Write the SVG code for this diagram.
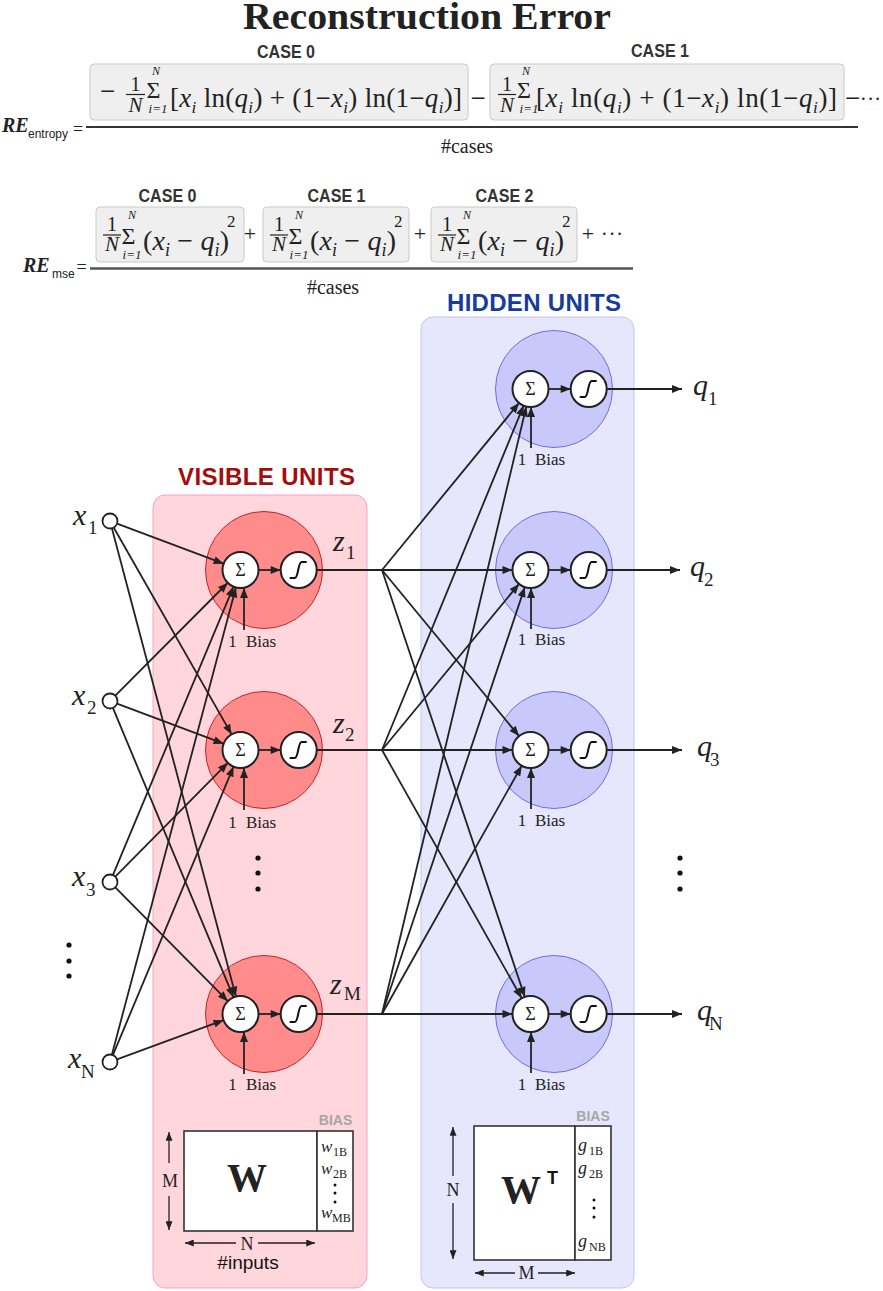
<svg xmlns="http://www.w3.org/2000/svg" xmlns:xlink="http://www.w3.org/1999/xlink" width="883" height="1291" viewBox="0 0 883 1291">
<style>
.f{font-family:"Liberation Serif","Times New Roman",serif;fill:#222}
.it{font-style:italic}
.bd{font-weight:bold}
.sa{font-family:"Liberation Sans",Arial,sans-serif}
.ln{stroke:#222;stroke-width:1.8;fill:none}
.arr{marker-end:url(#ah)}
.box{fill:#efefef;stroke:#c9c9c9;stroke-width:1}
.inner{fill:#fff;stroke:#222;stroke-width:2}
.vbig{fill:#ff8b8b;stroke:#c0262a;stroke-width:1}
.hbig{fill:#c8c8fb;stroke:#6e6ee0;stroke-width:1}
.in{fill:#fff;stroke:#222;stroke-width:1.8}
.sig{fill:none;stroke:#111;stroke-width:2}
.case{font-family:"Liberation Sans",Arial,sans-serif;font-weight:bold;font-size:18px;fill:#333;text-anchor:middle}
.dim{stroke:#222;stroke-width:1.3;fill:none;marker-end:url(#ah2)}
.mx{fill:#fff;stroke:#333;stroke-width:1.6}
.bias{font-family:"Liberation Sans",Arial,sans-serif;font-weight:bold;font-size:14px;fill:#a6a6a6;text-anchor:middle}
</style>
<defs>
<marker id="ah" viewBox="0 0 10 8" refX="10" refY="4" markerWidth="11" markerHeight="8" markerUnits="userSpaceOnUse" orient="auto"><path d="M0,0 L10,4 L0,8 z" fill="#222"/></marker>
<marker id="ah2" viewBox="0 0 10 8" refX="10" refY="4" markerWidth="9" markerHeight="7" markerUnits="userSpaceOnUse" orient="auto"><path d="M0,0 L10,4 L0,8 z" fill="#222"/></marker>
<path id="sig" class="sig" d="M-9,8 L-4,8 C0,8 -1,-8 3,-8 L8,-8"/>
</defs>
<rect width="883" height="1291" fill="#fff"/>

<!-- Title -->
<text class="f bd" x="427" y="29" font-size="37" text-anchor="middle" textLength="368" lengthAdjust="spacingAndGlyphs" fill="#2e2e2e">Reconstruction Error</text>

<!-- Entropy formula -->
<g id="formula-entropy">
<text class="case" x="286" y="58" textLength="58" lengthAdjust="spacingAndGlyphs">CASE 0</text>
<text class="case" x="660" y="57" textLength="58" lengthAdjust="spacingAndGlyphs">CASE 1</text>
<rect class="box" x="90" y="64" width="378" height="56" rx="4"/>
<rect class="box" x="490" y="64" width="354" height="56" rx="4"/>
<text class="f" x="107.5" y="100" font-size="27" text-anchor="middle">−</text>
<text class="f" x="135.5" y="91" font-size="20" text-anchor="middle">1</text>
<line x1="126" y1="94.5" x2="145" y2="94.5" stroke="#222" stroke-width="1.2"/>
<text class="f it" x="135.5" y="112" font-size="21" text-anchor="middle">N</text>
<text class="f" x="153.5" y="97.5" font-size="24" text-anchor="middle">Σ</text>
<text class="f it" x="156" y="75" font-size="12" text-anchor="middle">N</text>
<text class="f it" x="158" y="113" font-size="13" text-anchor="middle">i=1</text>
<text class="f" x="170" y="107" font-size="27" textLength="292" lengthAdjust="spacing">[<tspan class="it">x</tspan><tspan class="it" font-size="17" dy="6">i</tspan><tspan dy="-6"> ln(</tspan><tspan class="it">q</tspan><tspan class="it" font-size="17" dy="6">i</tspan><tspan dy="-6">) + (1−</tspan><tspan class="it">x</tspan><tspan class="it" font-size="17" dy="6">i</tspan><tspan dy="-6">) ln(1−</tspan><tspan class="it">q</tspan><tspan class="it" font-size="17" dy="6">i</tspan><tspan dy="-6">)]</tspan></text>
<text class="f" x="478" y="107" font-size="27" text-anchor="middle">−</text>
<text class="f" x="507" y="91" font-size="20" text-anchor="middle">1</text>
<line x1="498" y1="94.5" x2="516" y2="94.5" stroke="#222" stroke-width="1.2"/>
<text class="f it" x="507" y="112" font-size="21" text-anchor="middle">N</text>
<text class="f" x="524" y="97.5" font-size="24" text-anchor="middle">Σ</text>
<text class="f it" x="526" y="75" font-size="12" text-anchor="middle">N</text>
<text class="f it" x="529" y="113" font-size="13" text-anchor="middle">i=1</text>
<text class="f" x="536" y="107" font-size="27" textLength="301" lengthAdjust="spacing">[<tspan class="it">x</tspan><tspan class="it" font-size="17" dy="6">i</tspan><tspan dy="-6"> ln(</tspan><tspan class="it">q</tspan><tspan class="it" font-size="17" dy="6">i</tspan><tspan dy="-6">) + (1−</tspan><tspan class="it">x</tspan><tspan class="it" font-size="17" dy="6">i</tspan><tspan dy="-6">) ln(1−</tspan><tspan class="it">q</tspan><tspan class="it" font-size="17" dy="6">i</tspan><tspan dy="-6">)]</tspan></text>
<text class="f" x="852.5" y="107" font-size="27" text-anchor="middle">−</text>
<text class="f" x="860" y="106" font-size="20" textLength="21" lengthAdjust="spacing">···</text>
<line x1="86" y1="127" x2="858" y2="127" stroke="#333" stroke-width="2.2"/>
<text class="f" x="467" y="153" font-size="20" text-anchor="middle">#cases</text>
<text class="f bd it" x="2" y="132" font-size="20">RE</text>
<text class="sa" x="28" y="138" font-size="12" fill="#222">entropy</text>
<text class="f" x="78" y="135" font-size="18" text-anchor="middle">=</text>
</g>

<!-- MSE formula -->
<g id="formula-mse">
<text class="case" x="167.5" y="202" textLength="58" lengthAdjust="spacingAndGlyphs">CASE 0</text>
<text class="case" x="336.5" y="202" textLength="58" lengthAdjust="spacingAndGlyphs">CASE 1</text>
<text class="case" x="504.5" y="202" textLength="58" lengthAdjust="spacingAndGlyphs">CASE 2</text>
<rect class="box" x="96" y="207" width="148" height="55" rx="4"/>
<rect class="box" x="263" y="207" width="146" height="55" rx="4"/>
<rect class="box" x="431" y="207" width="146" height="55" rx="4"/>
<g transform="translate(96,0)">
<text class="f" x="16" y="231" font-size="20" text-anchor="middle">1</text>
<line x1="7" y1="235" x2="25" y2="235" stroke="#222" stroke-width="1.2"/>
<text class="f it" x="16" y="251" font-size="21" text-anchor="middle">N</text>
<text class="f" x="32.5" y="243.5" font-size="24" text-anchor="middle">Σ</text>
<text class="f it" x="36" y="219" font-size="12" text-anchor="middle">N</text>
<text class="f it" x="36" y="259" font-size="13" text-anchor="middle">i=1</text>
<text class="f" x="47" y="250" font-size="28" textLength="86" lengthAdjust="spacing">(<tspan class="it">x</tspan><tspan class="it" font-size="18" dy="6">i</tspan><tspan dy="-6"> − </tspan><tspan class="it">q</tspan><tspan class="it" font-size="18" dy="6">i</tspan><tspan dy="-6">)</tspan></text>
<text class="f" x="131" y="227" font-size="17">2</text>
</g>
<g transform="translate(263,0)">
<text class="f" x="16" y="231" font-size="20" text-anchor="middle">1</text>
<line x1="7" y1="235" x2="25" y2="235" stroke="#222" stroke-width="1.2"/>
<text class="f it" x="16" y="251" font-size="21" text-anchor="middle">N</text>
<text class="f" x="32.5" y="243.5" font-size="24" text-anchor="middle">Σ</text>
<text class="f it" x="36" y="219" font-size="12" text-anchor="middle">N</text>
<text class="f it" x="36" y="259" font-size="13" text-anchor="middle">i=1</text>
<text class="f" x="47" y="250" font-size="28" textLength="86" lengthAdjust="spacing">(<tspan class="it">x</tspan><tspan class="it" font-size="18" dy="6">i</tspan><tspan dy="-6"> − </tspan><tspan class="it">q</tspan><tspan class="it" font-size="18" dy="6">i</tspan><tspan dy="-6">)</tspan></text>
<text class="f" x="131" y="227" font-size="17">2</text>
</g>
<g transform="translate(431,0)">
<text class="f" x="16" y="231" font-size="20" text-anchor="middle">1</text>
<line x1="7" y1="235" x2="25" y2="235" stroke="#222" stroke-width="1.2"/>
<text class="f it" x="16" y="251" font-size="21" text-anchor="middle">N</text>
<text class="f" x="32.5" y="243.5" font-size="24" text-anchor="middle">Σ</text>
<text class="f it" x="36" y="219" font-size="12" text-anchor="middle">N</text>
<text class="f it" x="36" y="259" font-size="13" text-anchor="middle">i=1</text>
<text class="f" x="47" y="250" font-size="28" textLength="86" lengthAdjust="spacing">(<tspan class="it">x</tspan><tspan class="it" font-size="18" dy="6">i</tspan><tspan dy="-6"> − </tspan><tspan class="it">q</tspan><tspan class="it" font-size="18" dy="6">i</tspan><tspan dy="-6">)</tspan></text>
<text class="f" x="131" y="227" font-size="17">2</text>
</g>
<text class="f" x="250" y="241" font-size="22" text-anchor="middle">+</text>
<text class="f" x="420" y="241" font-size="22" text-anchor="middle">+</text>
<text class="f" x="588" y="241" font-size="22" text-anchor="middle">+</text>
<text class="f" x="601" y="241" font-size="20" textLength="22" lengthAdjust="spacing">···</text>
<line x1="90" y1="268.5" x2="633" y2="268.5" stroke="#555" stroke-width="2.4"/>
<text class="f" x="333" y="294" font-size="20" text-anchor="middle">#cases</text>
<text class="f bd it" x="23" y="272" font-size="20">RE</text>
<text class="sa" x="52" y="278" font-size="12" fill="#222">mse</text>
<text class="f" x="81.5" y="273" font-size="18" text-anchor="middle">=</text>
</g>

<!-- Panels -->
<g id="visible-panel">
<rect x="153" y="495" width="214" height="793" rx="12" fill="#ffd6db" stroke="#f5a3cf" stroke-width="1"/>
<text class="sa bd" x="266.5" y="485" font-size="24" text-anchor="middle" textLength="177" fill="#a30d0d">VISIBLE UNITS</text>
</g>
<g id="hidden-panel">
<rect x="421" y="317" width="213" height="971" rx="12" fill="#e6e6fc" stroke="#c2c2f2" stroke-width="1"/>
<text class="sa bd" x="534" y="311" font-size="24" text-anchor="middle" textLength="174" fill="#163c9c">HIDDEN UNITS</text>
</g>

<!-- Input nodes -->
<g id="input-x1"><circle class="in" cx="110" cy="521" r="7.5"/><text class="f it" x="73" y="525" font-size="30">x</text><text class="f" x="88" y="534" font-size="19">1</text></g>
<g id="input-x2"><circle class="in" cx="110" cy="701" r="7.5"/><text class="f it" x="72" y="705" font-size="30">x</text><text class="f" x="87" y="714" font-size="19">2</text></g>
<g id="input-x3"><circle class="in" cx="110" cy="882" r="7.5"/><text class="f it" x="72" y="886" font-size="30">x</text><text class="f" x="86" y="896" font-size="19">3</text></g>
<g id="input-xN"><circle class="in" cx="110" cy="1062" r="7.5"/><text class="f it" x="68" y="1068" font-size="30">x</text><text class="f" x="81" y="1078" font-size="19">N</text></g>
<g id="input-dots" fill="#111"><circle cx="69" cy="945" r="2.6"/><circle cx="69" cy="961" r="2.6"/><circle cx="69" cy="976" r="2.6"/></g>

<!-- Visible nodes -->
<g id="visible-z1">
<circle class="vbig" cx="264" cy="570" r="58.5"/>
<circle class="inner" cx="240.5" cy="570" r="18"/>
<text class="f" x="240.5" y="576" font-size="18" text-anchor="middle">Σ</text>
<line class="ln arr" x1="258.5" y1="570" x2="280.7" y2="570"/>
<circle class="inner" cx="298.7" cy="570" r="18"/>
<use href="#sig" x="298.7" y="570"/>
<line class="ln arr" x1="244" y1="630" x2="244" y2="588"/>
<text class="f" x="232.5" y="647" font-size="17" text-anchor="middle">1</text><text class="f" x="246" y="647" font-size="17">Bias</text>
<text class="f it" x="333" y="551" font-size="30">z</text><text class="f" x="346" y="559" font-size="19">1</text>
</g>
<g id="visible-z2">
<circle class="vbig" cx="264" cy="750" r="58.5"/>
<circle class="inner" cx="240.5" cy="750" r="18"/>
<text class="f" x="240.5" y="756" font-size="18" text-anchor="middle">Σ</text>
<line class="ln arr" x1="258.5" y1="750" x2="280.7" y2="750"/>
<circle class="inner" cx="298.7" cy="750" r="18"/>
<use href="#sig" x="298.7" y="750"/>
<line class="ln arr" x1="244" y1="810" x2="244" y2="768"/>
<text class="f" x="232.5" y="828" font-size="17" text-anchor="middle">1</text><text class="f" x="246" y="828" font-size="17">Bias</text>
<text class="f it" x="333" y="733" font-size="30">z</text><text class="f" x="345" y="741" font-size="19">2</text>
</g>
<g id="visible-dots" fill="#111"><circle cx="258" cy="858" r="2.6"/><circle cx="258" cy="873" r="2.6"/><circle cx="258" cy="889" r="2.6"/></g>
<g id="visible-zM">
<circle class="vbig" cx="264" cy="1014" r="58.5"/>
<circle class="inner" cx="240.5" cy="1014" r="18"/>
<text class="f" x="240.5" y="1020" font-size="18" text-anchor="middle">Σ</text>
<line class="ln arr" x1="258.5" y1="1014" x2="280.7" y2="1014"/>
<circle class="inner" cx="298.7" cy="1014" r="18"/>
<use href="#sig" x="298.7" y="1014"/>
<line class="ln arr" x1="244" y1="1074" x2="244" y2="1032"/>
<text class="f" x="232.5" y="1090" font-size="17" text-anchor="middle">1</text><text class="f" x="246" y="1090" font-size="17">Bias</text>
<text class="f it" x="330" y="994" font-size="30">z</text><text class="f" x="344" y="1000" font-size="19">M</text>
</g>

<!-- Hidden nodes -->
<g id="hidden-q1">
<circle class="hbig" cx="554" cy="389" r="58.5"/>
<circle class="inner" cx="530.5" cy="389" r="18"/>
<text class="f" x="530.5" y="395" font-size="18" text-anchor="middle">Σ</text>
<line class="ln arr" x1="548.5" y1="389" x2="570.7" y2="389"/>
<circle class="inner" cx="588.7" cy="389" r="18"/>
<use href="#sig" x="588.7" y="389"/>
<line class="ln arr" x1="531" y1="448" x2="531" y2="407"/>
<text class="f" x="522" y="465" font-size="17" text-anchor="middle">1</text><text class="f" x="535" y="465" font-size="17">Bias</text>
</g>
<g id="hidden-q2">
<circle class="hbig" cx="554" cy="570" r="58.5"/>
<circle class="inner" cx="530.5" cy="570" r="18"/>
<text class="f" x="530.5" y="576" font-size="18" text-anchor="middle">Σ</text>
<line class="ln arr" x1="548.5" y1="570" x2="570.7" y2="570"/>
<circle class="inner" cx="588.7" cy="570" r="18"/>
<use href="#sig" x="588.7" y="570"/>
<line class="ln arr" x1="531" y1="629" x2="531" y2="588"/>
<text class="f" x="522" y="645" font-size="17" text-anchor="middle">1</text><text class="f" x="535" y="645" font-size="17">Bias</text>
</g>
<g id="hidden-q3">
<circle class="hbig" cx="554" cy="750" r="58.5"/>
<circle class="inner" cx="530.5" cy="750" r="18"/>
<text class="f" x="530.5" y="756" font-size="18" text-anchor="middle">Σ</text>
<line class="ln arr" x1="548.5" y1="750" x2="570.7" y2="750"/>
<circle class="inner" cx="588.7" cy="750" r="18"/>
<use href="#sig" x="588.7" y="750"/>
<line class="ln arr" x1="531" y1="809" x2="531" y2="768"/>
<text class="f" x="522" y="826" font-size="17" text-anchor="middle">1</text><text class="f" x="535" y="826" font-size="17">Bias</text>
</g>
<g id="hidden-dots" fill="#111"><circle cx="680" cy="858" r="2.6"/><circle cx="680" cy="873" r="2.6"/><circle cx="680" cy="889" r="2.6"/></g>
<g id="hidden-qN">
<circle class="hbig" cx="554" cy="1014" r="58.5"/>
<circle class="inner" cx="530.5" cy="1014" r="18"/>
<text class="f" x="530.5" y="1020" font-size="18" text-anchor="middle">Σ</text>
<line class="ln arr" x1="548.5" y1="1014" x2="570.7" y2="1014"/>
<circle class="inner" cx="588.7" cy="1014" r="18"/>
<use href="#sig" x="588.7" y="1014"/>
<line class="ln arr" x1="531" y1="1073" x2="531" y2="1032"/>
<text class="f" x="522" y="1090" font-size="17" text-anchor="middle">1</text><text class="f" x="535" y="1090" font-size="17">Bias</text>
</g>

<!-- Output labels -->
<g id="output-q1"><text class="f it" x="693" y="395" font-size="30">q</text><text class="f" x="708" y="405" font-size="19">1</text></g>
<g id="output-q2"><text class="f it" x="690" y="576" font-size="30">q</text><text class="f" x="704" y="586" font-size="19">2</text></g>
<g id="output-q3"><text class="f it" x="697" y="756" font-size="30">q</text><text class="f" x="710" y="766" font-size="19">3</text></g>
<g id="output-qN"><text class="f it" x="697" y="1020" font-size="30">q</text><text class="f" x="709" y="1030" font-size="19">N</text></g>

<!-- Connectors -->
<g id="connectors">
<line class="ln arr" x1="117.0" y1="523.6" x2="223.65" y2="563.67"/>
<line class="ln arr" x1="113.7" y1="527.5" x2="231.6" y2="734.4"/>
<line class="ln arr" x1="111.9" y1="528.3" x2="235.9" y2="996.6"/>
<line class="ln arr" x1="115.3" y1="695.7" x2="227.8" y2="582.75"/>
<line class="ln arr" x1="117.0" y1="703.6" x2="223.65" y2="743.67"/>
<line class="ln arr" x1="112.9" y1="707.9" x2="233.6" y2="997.4"/>
<line class="ln arr" x1="112.9" y1="875.1" x2="233.55" y2="586.6"/>
<line class="ln arr" x1="115.3" y1="876.7" x2="227.84" y2="762.8"/>
<line class="ln arr" x1="115.3" y1="887.3" x2="227.84" y2="1001.2"/>
<line class="ln arr" x1="111.9" y1="1054.75" x2="235.9" y2="587.4"/>
<line class="ln arr" x1="112.9" y1="1055.1" x2="233.55" y2="766.6"/>
<line class="ln arr" x1="117.0" y1="1059.4" x2="223.6" y2="1020.2"/>
<line class="ln" x1="316.7" y1="570" x2="382" y2="570"/>
<line class="ln" x1="316.7" y1="750" x2="382" y2="750"/>
<line class="ln" x1="316.7" y1="1014" x2="382" y2="1014"/>
<line class="ln arr" x1="382" y1="570" x2="519.1" y2="402.9"/>
<line class="ln arr" x1="382" y1="570" x2="512.5" y2="570"/>
<line class="ln arr" x1="382" y1="570" x2="519.04" y2="736.1"/>
<line class="ln arr" x1="382" y1="570" x2="524.8" y2="996.9"/>
<line class="ln arr" x1="382" y1="750" x2="523.65" y2="405.6"/>
<line class="ln arr" x1="382" y1="750" x2="519.04" y2="583.9"/>
<line class="ln arr" x1="382" y1="750" x2="512.5" y2="750"/>
<line class="ln arr" x1="382" y1="750" x2="521.7" y2="998.3"/>
<line class="ln arr" x1="382" y1="1014" x2="526.3" y2="406.5"/>
<line class="ln arr" x1="382" y1="1014" x2="524.8" y2="587.1"/>
<line class="ln arr" x1="382" y1="1014" x2="521.7" y2="765.7"/>
<line class="ln arr" x1="382" y1="1014" x2="512.5" y2="1014"/>
<line class="ln arr" x1="606.7" y1="389" x2="682" y2="389"/>
<line class="ln arr" x1="606.7" y1="570" x2="680" y2="570"/>
<line class="ln arr" x1="606.7" y1="750" x2="682" y2="750"/>
<line class="ln arr" x1="606.7" y1="1014" x2="682" y2="1014"/>
</g>

<!-- Matrix W -->
<g id="matrix-W">
<text class="bias" x="335.5" y="1125">BIAS</text>
<rect class="mx" x="184" y="1131" width="133" height="100"/>
<rect class="mx" x="317" y="1131" width="36" height="100"/>
<text class="f bd" x="247" y="1191" font-size="40" text-anchor="middle">W</text>
<text class="f it" x="321" y="1152" font-size="17">w</text><text class="f" x="333" y="1156" font-size="12">1B</text>
<text class="f it" x="321" y="1174" font-size="17">w</text><text class="f" x="333" y="1178" font-size="12">2B</text>
<g fill="#111"><circle cx="335" cy="1185" r="1.5"/><circle cx="335" cy="1193" r="1.5"/><circle cx="335" cy="1202" r="1.5"/></g>
<text class="f it" x="321" y="1218" font-size="17">w</text><text class="f" x="332" y="1222" font-size="12">MB</text>
<line class="dim" x1="169" y1="1163" x2="169" y2="1132"/>
<line class="dim" x1="169" y1="1196" x2="169" y2="1230"/>
<text class="f" x="170" y="1187" font-size="18" text-anchor="middle">M</text>
<line class="dim" x1="236" y1="1243" x2="185" y2="1243"/>
<line class="dim" x1="258" y1="1243" x2="315" y2="1243"/>
<text class="f" x="247" y="1250" font-size="18" text-anchor="middle">N</text>
<text class="sa" x="248" y="1269" font-size="19" text-anchor="middle" fill="#111">#inputs</text>
</g>

<!-- Matrix W^T -->
<g id="matrix-WT">
<text class="bias" x="593" y="1121">BIAS</text>
<rect class="mx" x="474" y="1126" width="101" height="134"/>
<rect class="mx" x="575" y="1126" width="36" height="134"/>
<text class="f bd" x="521" y="1203" font-size="40" text-anchor="middle">W</text>
<text class="sa bd" x="547" y="1184" font-size="18" fill="#111">T</text>
<text class="f it" x="578" y="1151" font-size="18">g</text><text class="f" x="589" y="1155" font-size="12">1B</text>
<text class="f it" x="578" y="1174" font-size="18">g</text><text class="f" x="589" y="1178" font-size="12">2B</text>
<g fill="#111"><circle cx="594" cy="1200" r="1.5"/><circle cx="594" cy="1208" r="1.5"/><circle cx="594" cy="1217" r="1.5"/></g>
<text class="f it" x="578" y="1247" font-size="18">g</text><text class="f" x="589" y="1251" font-size="12">NB</text>
<line class="dim" x1="453" y1="1176" x2="453" y2="1127"/>
<line class="dim" x1="453" y1="1203" x2="453" y2="1259"/>
<text class="f" x="453" y="1196" font-size="18" text-anchor="middle">N</text>
<line class="dim" x1="515" y1="1273" x2="475" y2="1273"/>
<line class="dim" x1="538" y1="1273" x2="575" y2="1273"/>
<text class="f" x="526.5" y="1279" font-size="18" text-anchor="middle">M</text>
</g>
</svg>
